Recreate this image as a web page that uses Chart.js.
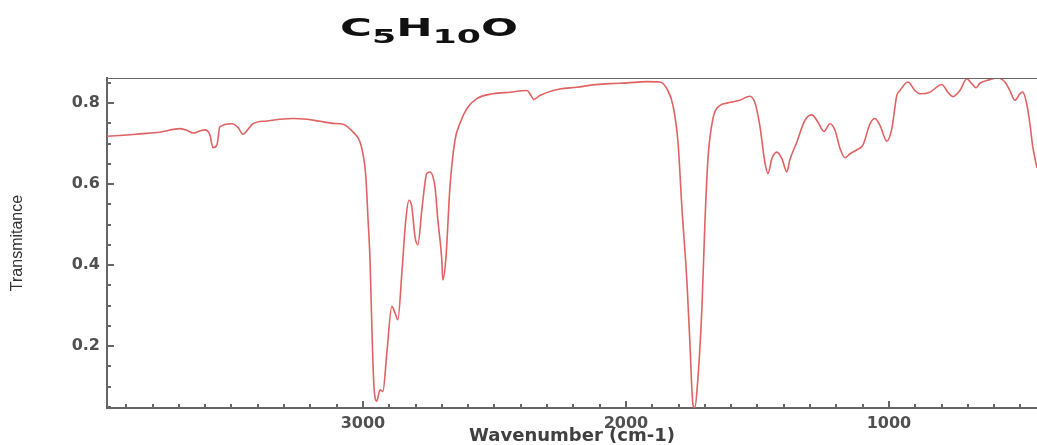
<!DOCTYPE html>
<html>
<head>
<meta charset="utf-8">
<script src="https://cdn.jsdelivr.net/npm/chart.js@4/dist/chart.umd.min.js"></script>
<style>
  html, body { margin: 0; padding: 0; background: #fff; }
  #wrap { position: relative; width: 1037px; height: 445px; }
  #formula {
    position: absolute; left: 340px; top: 15px;
    font-family: "DejaVu Sans", sans-serif;
    font-weight: bold; font-size: 25px; color: #111;
    white-space: nowrap; line-height: 1;
    transform: scaleX(1.74); transform-origin: left top;
  }
  #formula sub { font-size: 20px; vertical-align: -7px; line-height: 1; }
</style>
</head>
<body>
<div id="wrap">
  <canvas id="irChart" width="1037" height="445"></canvas>
  <div id="formula">C<sub>5</sub>H<sub>10</sub>O</div>
</div>
<script>
// IR spectrum of C5H10O
const wavenumbers = [
  3973, 3924, 3848, 3772, 3696, 3669, 3646, 3620, 3601, 3582, 3570, 3555, 3544,
  3498, 3475, 3456, 3437, 3418, 3365, 3316, 3266, 3213, 3163, 3114, 3076, 3038,
  3011, 3000, 2989, 2981, 2973, 2966, 2958, 2947, 2935, 2924, 2909, 2890, 2878,
  2867, 2852, 2837, 2825, 2814, 2802, 2791, 2776, 2757, 2745, 2726, 2715, 2700,
  2696, 2684, 2669, 2650, 2631, 2605, 2567, 2506, 2441, 2376, 2361, 2350, 2327,
  2251, 2186, 2126, 2061, 1996, 1920, 1871, 1844, 1821, 1802, 1787, 1768, 1757,
  1745, 1738, 1730, 1711, 1700, 1688, 1669, 1643, 1616, 1567, 1529, 1510, 1491,
  1472, 1460, 1445, 1426, 1407, 1388, 1377, 1350, 1320, 1293, 1270, 1247, 1224,
  1205, 1186, 1167, 1148, 1118, 1099, 1072, 1053, 1034, 1008, 989, 970, 958,
  928, 901, 882, 844, 799, 776, 757, 730, 704, 685, 669, 654, 616, 586, 559,
  540, 521, 502, 491, 476, 464, 453, 437
];
const transmittance = [
  0.718, 0.720, 0.724, 0.728, 0.737, 0.733, 0.726, 0.731, 0.734, 0.722, 0.690, 0.697, 0.741,
  0.749, 0.740, 0.723, 0.735, 0.749, 0.756, 0.760, 0.762, 0.760, 0.755, 0.750, 0.748, 0.729,
  0.704, 0.675, 0.620, 0.520, 0.413, 0.248, 0.100, 0.064, 0.092, 0.088, 0.183, 0.298, 0.282,
  0.265, 0.380, 0.511, 0.560, 0.544, 0.470, 0.450, 0.536, 0.626, 0.630, 0.593, 0.511, 0.413,
  0.363, 0.421, 0.593, 0.708, 0.750, 0.786, 0.811, 0.823, 0.827, 0.831, 0.819, 0.809, 0.819,
  0.835, 0.839, 0.845, 0.848, 0.850, 0.853, 0.852, 0.835, 0.794, 0.704, 0.540, 0.359, 0.211,
  0.055, 0.048, 0.088, 0.294, 0.499, 0.663, 0.762, 0.794, 0.800, 0.807, 0.817, 0.802, 0.745,
  0.655, 0.626, 0.663, 0.679, 0.663, 0.630, 0.659, 0.704, 0.757, 0.771, 0.753, 0.730, 0.749,
  0.733, 0.688, 0.665, 0.675, 0.686, 0.696, 0.749, 0.762, 0.745, 0.706, 0.737, 0.819, 0.831,
  0.852, 0.831, 0.823, 0.827, 0.846, 0.827, 0.816, 0.831, 0.860, 0.848, 0.838, 0.849, 0.858, 0.862, 0.852,
  0.831, 0.807, 0.823, 0.827, 0.798, 0.749, 0.692, 0.640
];
const xMajorTicks = [1000, 2000, 3000];
const yMajorTicks = [0.2, 0.4, 0.6, 0.8];
const xMinorStep = 100;
const yMinorStep = 0.05;

const axisColor = '#666';
const near = (a, b) => Math.abs(a - b) < 1e-6;
const isYMajor = v => yMajorTicks.some(t => near(t, v));

// small ticks drawn inside the plot + the top frame line
const innerTicks = {
  id: 'innerTicks',
  afterDraw(chart) {
    const { ctx, chartArea: a, scales: { x, y } } = chart;
    ctx.save();
    ctx.strokeStyle = axisColor;
    ctx.lineWidth = 1.2;
    ctx.beginPath();
    ctx.moveTo(a.left, a.top + 0.5);
    ctx.lineTo(a.right, a.top + 0.5);
    ctx.stroke();
    ctx.lineWidth = 2;
    for (let v = Math.ceil(x.min / xMinorStep) * xMinorStep; v <= x.max; v += xMinorStep) {
      const px = Math.round(x.getPixelForValue(v));
      const len = xMajorTicks.includes(v) ? 7 : 4;
      ctx.beginPath();
      ctx.moveTo(px, a.bottom);
      ctx.lineTo(px, a.bottom - len);
      ctx.stroke();
    }
    for (let i = Math.ceil(y.min / yMinorStep); i * yMinorStep <= y.max; i++) {
      const v = i * yMinorStep;
      const py = Math.round(y.getPixelForValue(v));
      const len = isYMajor(v) ? 7 : 4;
      ctx.beginPath();
      ctx.moveTo(a.left, py);
      ctx.lineTo(a.left + len, py);
      ctx.stroke();
    }
    ctx.restore();
  }
};

const tickFont = { family: '"DejaVu Sans", sans-serif', size: 16, weight: 'bold' };

new Chart(document.getElementById('irChart'), {
  type: 'line',
  data: {
    datasets: [{
      label: 'C5H10O',
      data: wavenumbers.map((w, i) => ({ x: w, y: transmittance[i] })),
      borderColor: '#e06262',
      borderWidth: 1.6,
      pointRadius: 0,
      fill: false,
      cubicInterpolationMode: 'monotone'
    }]
  },
  options: {
    responsive: false,
    animation: false,
    layout: { padding: { top: 78, right: 0, left: 0, bottom: 0 } },
    plugins: {
      legend: { display: false },
      tooltip: { enabled: false }
    },
    scales: {
      x: {
        type: 'linear',
        reverse: true,
        min: 437,
        max: 3973,
        grid: { display: false, drawTicks: false },
        border: { display: true, color: axisColor, width: 2 },
        afterBuildTicks: s => { s.ticks = xMajorTicks.map(v => ({ value: v })); },
        ticks: {
          autoSkip: false,
          maxRotation: 0,
          padding: 6,
          color: '#505050',
          font: tickFont,
          callback: v => String(v)
        },
        title: {
          display: true,
          text: 'Wavenumber (cm-1)',
          color: '#404040',
          font: { family: '"DejaVu Sans", sans-serif', size: 18, weight: 'bold' },
          padding: { top: 0, bottom: -2 }
        },
        afterFit: s => { s.height = 37; }
      },
      y: {
        min: 0.047,
        max: 0.862,
        grid: { display: false, drawTicks: false },
        border: { display: true, color: axisColor, width: 2 },
        afterBuildTicks: s => { s.ticks = yMajorTicks.map(v => ({ value: v })); },
        ticks: {
          autoSkip: false,
          padding: 7,
          color: '#505050',
          font: tickFont,
          callback: v => v.toFixed(1)
        },
        title: {
          display: true,
          text: 'Transmitance',
          color: '#333',
          font: { family: '"Liberation Sans", Arial, sans-serif', size: 16 },
          padding: { top: 8, bottom: 0 }
        },
        afterFit: s => { s.width = 107; }
      }
    }
  },
  plugins: [innerTicks]
});
</script>
</body>
</html>
